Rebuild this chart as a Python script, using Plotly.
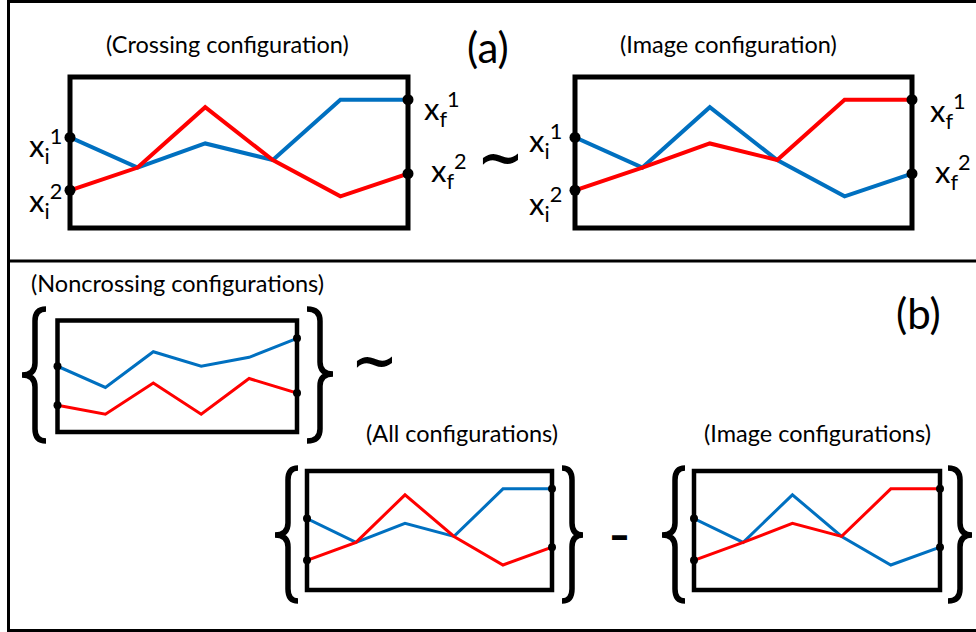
import plotly.graph_objects as go

# Figure size in pixels
W, H = 976, 632

# Time slices shared by every panel
t = [0, 1, 2, 3, 4, 5]

# (a) crossing configuration: walker 1 (blue) and walker 2 (red)
cross_w1 = [0.60, 0.40, 0.56, 0.45, 0.85, 0.85]
cross_w2 = [0.25, 0.40, 0.80, 0.45, 0.21, 0.36]

# Index of the first meeting point; the image configuration swaps the tails after it
first_meet = 1
image_w1 = cross_w1[:first_meet + 1] + cross_w2[first_meet + 1:]
image_w2 = cross_w2[:first_meet + 1] + cross_w1[first_meet + 1:]

# (b) noncrossing configuration
noncross_w1 = [0.59, 0.40, 0.72, 0.59, 0.67, 0.84]
noncross_w2 = [0.24, 0.16, 0.44, 0.16, 0.48, 0.35]

BLUE = "#0070C0"
RED = "#FF0000"
FONT = "Lato, 'Noto Sans', sans-serif"


def px(x):
    return x / W


def py(y):
    return 1 - y / H


# Panels: (name, box left, right, top, bottom in px, walker1, walker2, line width, dot size, frame width)
panels = [
    ("cross", 70, 408, 77, 228, cross_w1, cross_w2, 4, 11, 5),
    ("image", 575, 912, 77, 228, image_w1, image_w2, 4, 11, 5),
    ("noncross", 57.5, 297, 320.5, 432, noncross_w1, noncross_w2, 3, 8, 4.5),
    ("all", 307, 552, 471, 590, cross_w1, cross_w2, 3, 8, 4.5),
    ("image_b", 694, 940, 471, 590, image_w1, image_w2, 3, 8, 4.5),
]

fig = go.Figure()
layout = dict(
    width=W, height=H,
    margin=dict(l=0, r=0, t=0, b=0),
    paper_bgcolor="white", plot_bgcolor="rgba(0,0,0,0)",
    showlegend=False,
)
shapes = []

for i, (name, x0, x1, y0, y1, w1, w2, lw, ds, fw) in enumerate(panels, start=1):
    sfx = "" if i == 1 else str(i)
    xa, ya = "x" + sfx, "y" + sfx
    layout["xaxis" + sfx] = dict(domain=[px(x0), px(x1)], range=[0, 5], visible=False,
                                 anchor=ya, fixedrange=True)
    layout["yaxis" + sfx] = dict(domain=[py(y1), py(y0)], range=[0, 1], visible=False,
                                 anchor=xa, fixedrange=True)
    shapes.append(dict(type="rect", xref=xa + " domain", yref=ya + " domain",
                       x0=0, x1=1, y0=0, y1=1, layer="below",
                       line=dict(color="black", width=fw)))
    for ys, col in ((w1, BLUE), (w2, RED)):
        fig.add_trace(go.Scatter(x=t, y=ys, mode="lines", xaxis=xa, yaxis=ya,
                                 line=dict(color=col, width=lw), cliponaxis=False,
                                 hoverinfo="skip"))
    # boundary points
    fig.add_trace(go.Scatter(x=[t[0], t[0], t[-1], t[-1]],
                             y=[w1[0], w2[0], w1[-1], w2[-1]],
                             mode="markers", xaxis=xa, yaxis=ya, cliponaxis=False,
                             marker=dict(color="black", size=ds), hoverinfo="skip"))

# Outer frame and divider between (a) and (b)
frame = dict(color="black", width=3)
shapes += [
    dict(type="line", xref="paper", yref="paper", x0=px(8.5), x1=px(8.5), y0=0, y1=1, line=frame),
    dict(type="line", xref="paper", yref="paper", x0=px(8.5), x1=1, y0=py(1.5), y1=py(1.5), line=frame),
    dict(type="line", xref="paper", yref="paper", x0=px(8.5), x1=1, y0=py(261), y1=py(261), line=frame),
    dict(type="line", xref="paper", yref="paper", x0=px(8.5), x1=1, y0=py(630.5), y1=py(630.5), line=frame),
]


def brace(x_end, x_body, x_tip, y_top, y_bot, y_mid, r=12):
    pts = [
        ("M", [(x_end, y_top)]),
        ("Q", [(x_body, y_top), (x_body, y_top + r)]),
        ("L", [(x_body, y_mid - r)]),
        ("Q", [(x_body, y_mid), (x_tip, y_mid)]),
        ("Q", [(x_body, y_mid), (x_body, y_mid + r)]),
        ("L", [(x_body, y_bot - r)]),
        ("Q", [(x_body, y_bot), (x_end, y_bot)]),
    ]
    path = " ".join(cmd + " " + " ".join(f"{px(a):.5f},{py(b):.5f}" for a, b in p) for cmd, p in pts)
    return dict(type="path", xref="paper", yref="paper", path=path,
                line=dict(color="black", width=5.5))


shapes += [
    brace(46, 35, 22, 309, 441, 375),
    brace(307, 320, 333, 309, 441, 374),
    brace(298, 288, 275, 468, 601, 535),
    brace(562, 572, 583, 468, 601, 535),
    brace(685, 675, 662, 468, 601, 535),
    brace(948, 960, 972, 468, 601, 535),
]
layout["shapes"] = shapes

annotations = []


def text(x, y, s, size, xanchor="center", family=FONT, color="black"):
    annotations.append(dict(x=px(x), y=py(y), xref="paper", yref="paper", text=s,
                            showarrow=False, xanchor=xanchor, yanchor="middle",
                            font=dict(family=family, size=size, color=color)))


# Titles
text(227, 44, "(Crossing configuration)", 23.5)
text(728, 44, "(Image configuration)", 23.5)
text(177, 283, "(Noncrossing configurations)", 23.5)
text(462, 433, "(All configurations)", 23.5)
text(817, 433, "(Image configurations)", 23.5)
text(488, 47, "(a)", 42)
text(918, 313, "(b)", 42)

# Endpoint labels
labels = [
    (27, 146, "i", "1"), (27, 201, "i", "2"),
    (422, 109, "f", "1"), (429, 171, "f", "2"),
    (527, 141, "i", "1"), (527, 204, "i", "2"),
    (928, 111, "f", "1"), (933, 172, "f", "2"),
]
for x, y, sub, sup in labels:
    text(x, y, f"x<sub>{sub}</sub><sup>{sup}</sup>", 31, xanchor="left")

# Equivalence and difference signs
text(501, 156, "<b>~</b>", 56, family="'DejaVu Sans'")
text(374, 359, "<b>~</b>", 56, family="'DejaVu Sans'")
text(619, 535, "<b>–</b>", 38, family="'DejaVu Sans'")

layout["annotations"] = annotations
fig.update_layout(**layout)
fig.write_html("out.html")
